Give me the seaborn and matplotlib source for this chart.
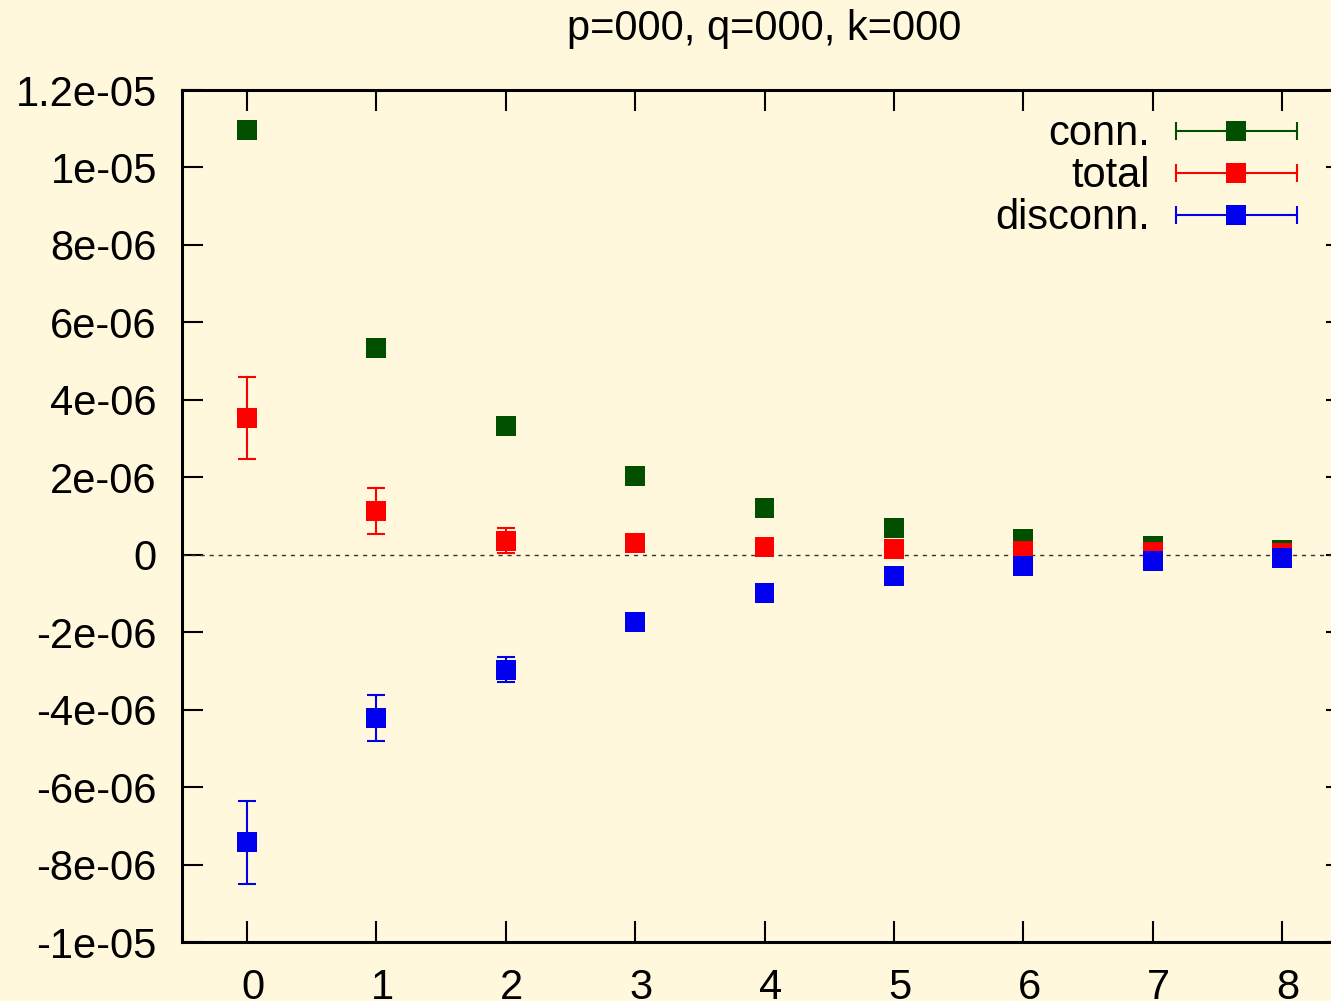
import numpy as np
import pandas as pd
import seaborn as sns
import matplotlib.pyplot as plt
import matplotlib.transforms as mtransforms
from matplotlib.legend_handler import HandlerBase
from matplotlib.lines import Line2D

# data (in units of 1e-6)
t = [0, 1, 2, 3, 4, 5, 6, 7, 8]
conn = np.array([10.97, 5.34, 3.33, 2.03, 1.21, 0.69, 0.41, 0.23, 0.12]) * 1e-6
conn_err = np.array([0.03, 0.02, 0.02, 0.02, 0.01, 0.01, 0.01, 0.01, 0.01]) * 1e-6
total = np.array([3.53, 1.13, 0.36, 0.30, 0.20, 0.15, 0.10, 0.07, 0.05]) * 1e-6
total_err = np.array([1.07, 0.59, 0.32, 0.18, 0.10, 0.06, 0.04, 0.02, 0.01]) * 1e-6
disconn = np.array([-7.42, -4.21, -2.97, -1.74, -0.99, -0.55, -0.29, -0.16, -0.08]) * 1e-6
disconn_err = np.array([1.07, 0.59, 0.32, 0.18, 0.10, 0.06, 0.04, 0.02, 0.01]) * 1e-6

series_names = ["conn.", "total", "disconn."]
series_colors = ["#005000", "#ff0000", "#0000ee"]
xtick_values = [0, 1, 2, 3, 4, 5, 6, 7, 8]
ytick_values = [-10e-6, -8e-6, -6e-6, -4e-6, -2e-6, 0, 2e-6, 4e-6, 6e-6, 8e-6, 10e-6, 12e-6]

df = pd.concat([
    pd.DataFrame({"t": t, "val": conn, "err": conn_err, "series": "conn."}),
    pd.DataFrame({"t": t, "val": total, "err": total_err, "series": "total"}),
    pd.DataFrame({"t": t, "val": disconn, "err": disconn_err, "series": "disconn."}),
], ignore_index=True)

sns.set_style("ticks")
plt.rcParams["font.family"] = ["Liberation Sans", "DejaVu Sans"]
plt.rcParams["text.color"] = "black"
plt.rcParams["axes.labelcolor"] = "black"
plt.rcParams["xtick.color"] = "black"
plt.rcParams["ytick.color"] = "black"

bg = "#fff8dc"
fig = plt.figure(figsize=(13.31, 10.01), dpi=100, facecolor=bg)
# axes run off the right edge of the canvas like in the reference
ax = fig.add_axes([182 / 1331, 1 - 942 / 1001, 1165 / 1331, 852 / 1001])
ax.set_facecolor(bg)

ax.axhline(0, color="#333333", lw=1.0, ls=(0, (3, 3.5)), zorder=1)

palette = dict(zip(series_names, series_colors))
for name in series_names:
    sub = df[df["series"] == name]
    ax.errorbar(sub["t"], sub["val"], yerr=sub["err"], fmt="none",
                ecolor=palette[name], elinewidth=1.5, capsize=6.5, capthick=1.5, zorder=2)

sns.scatterplot(data=df, x="t", y="val", hue="series", hue_order=series_names,
                palette=palette, marker="s", s=207, linewidth=0, legend=False,
                ax=ax, zorder=3)

ax.set_xlim(-0.5, 8.5)
ax.set_ylim(-1e-5, 1.2e-5)
ax.set_xticks(xtick_values)
ax.set_yticks(ytick_values)
ax.set_yticklabels([f"{v:g}" for v in ytick_values])
ax.set_xlabel("")
ax.set_ylabel("")
ax.tick_params(direction="in", length=15, width=1.5, top=True, right=True,
               labelsize=30, colors="black")
ax.tick_params(axis="y", pad=18)
ax.tick_params(axis="x", pad=19)
# gnuplot puts the x labels a touch to the right of the tick
shift = mtransforms.ScaledTranslation(0.06, 0, fig.dpi_scale_trans)
for lab in ax.get_xticklabels():
    lab.set_transform(lab.get_transform() + shift)
for sp in ax.spines.values():
    sp.set_linewidth(2.2)
    sp.set_color("black")

ax.set_title("p=000, q=000, k=000", fontsize=30, pad=36, color="black")


# gnuplot style key: horizontal error bar with the point in the middle
class GnuplotKey(HandlerBase):
    def create_artists(self, legend, orig_handle, xdescent, ydescent,
                       width, height, fontsize, trans):
        c = orig_handle.get_color()
        y = height / 2 - ydescent
        x0, x1 = -xdescent, width - xdescent
        bar = Line2D([x0, x1], [y, y], color=c, lw=1.5)
        caps = Line2D([x0, x1], [y, y], ls="none", marker="|", ms=13, mew=1.5, color=c)
        sq = Line2D([(x0 + x1) / 2], [y], ls="none", marker="s", ms=14.4, mew=0, color=c)
        for a in (bar, caps, sq):
            a.set_transform(trans)
        return [bar, caps, sq]


handles = [Line2D([], [], color=palette[n], label=n) for n in series_names]
leg = ax.legend(handles=handles, handler_map={Line2D: GnuplotKey()}, loc="upper right",
                bbox_to_anchor=(0.957, 0.9715), frameon=False, markerfirst=False,
                handlelength=2.9, handletextpad=0.62, labelspacing=0.05,
                borderpad=0, borderaxespad=0, fontsize=30)
for txt in leg.get_texts():
    txt.set_color("black")

fig.savefig("out.png", dpi=100, facecolor=bg)
